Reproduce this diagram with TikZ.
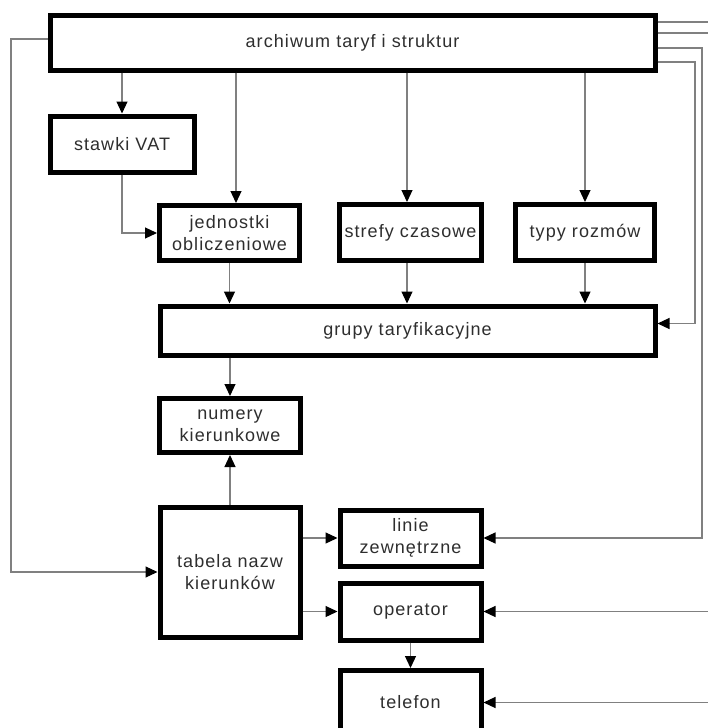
\documentclass[tikz,border=0pt]{standalone}
\usepackage{fontspec}
\setmainfont{Liberation Sans}[LetterSpace=6]
\usetikzlibrary{arrows.meta,calc}
\begin{document}
\begin{tikzpicture}[x=1pt,y=-1pt,
  box/.style={draw=black,line width=5pt,rectangle,align=center,inner sep=0pt,
    font=\fontsize{18}{21.5}\selectfont,text=black!82},
  conn/.style={draw=black!50,line width=1.2pt,-{Triangle[length=12pt,width=11pt,color=black]}},
  plain/.style={draw=black!50,line width=1.2pt}]
\clip (0,0) rectangle (708,728);
\fill[white] (0,0) rectangle (708,728);
\node[box,minimum width=605pt,minimum height=55pt] (top) at (352.5,42.5) {archiwum taryf i struktur};
\node[box,minimum width=144pt,minimum height=56pt] (vat) at (122,144) {stawki VAT};
\node[box,minimum width=140pt,minimum height=55pt] (jed) at (229.5,233) {jednostki\\obliczeniowe};
\node[box,minimum width=142pt,minimum height=56pt] (str) at (410.5,232.5) {strefy czasowe};
\node[box,minimum width=139pt,minimum height=56pt] (typ) at (585,232.5) {typy rozmów};
\node[box,minimum width=495pt,minimum height=49pt] (gru) at (407.5,330.5) {grupy taryfikacyjne};
\node[box,minimum width=141pt,minimum height=54pt] (num) at (230,425.5) {numery\\kierunkowe};
\node[box,minimum width=140pt,minimum height=130pt] (tab) at (230,572) {tabela nazw\\kierunków};
\node[box,minimum width=141pt,minimum height=56pt] (lin) at (410.5,538) {linie\\zewnętrzne};
\node[box,minimum width=141pt,minimum height=57pt] (ope) at (410.5,611.5) {operator};
\node[box,minimum width=141pt,minimum height=64pt] (tel) at (410.5,702.5) {telefon};
% top fan-out
\draw[conn] (top.south -| vat.north) -- (vat.north);
\draw[conn] ($(top.south)+(-116.5,0)$) -- ($(jed.north)+(6.5,0)$);
\draw[conn] ($(top.south)+(54.5,0)$) -- ($(str.north)+(-3.5,0)$);
\draw[conn] (top.south -| typ.north) -- (typ.north);
\draw[conn] (vat.south) |- (jed.west);
\draw[conn] (jed.south) -- (jed.south |- gru.north);
\draw[conn] ($(str.south)+(-3.5,0)$) -- ($(gru.north)+(-0.5,0)$);
\draw[conn] (typ.south) -- (typ.south |- gru.north);
\draw[conn] (gru.south -| num.north) -- (num.north);
\draw[conn] (tab.north) -- (num.south);
\draw[conn] (tab.east |- lin.west) -- (lin.west);
\draw[conn] (tab.east |- ope.west) -- (ope.west);
\draw[conn] (ope.south) -- (tel.north);
% right side feeds
\coordinate (r1) at (708,22);
\coordinate (r2) at (708,33);
\coordinate (r3) at (702,48);
\coordinate (r4) at (695,62);
\coordinate (ro) at (708,611.5);
\coordinate (rt) at (708,702.5);
\coordinate (l1) at (11,39);
\draw[plain] (top.east |- r1) -- (r1);
\draw[plain] (top.east |- r2) -- (r2);
\draw[conn] (top.east |- r3) -- (r3) |- (lin.east);
\draw[conn] (top.east |- r4) -- (r4) |- ($(gru.east)+(0,-7)$);
\draw[conn] (ro) -- (ope.east);
\draw[conn] (rt) -- (tel.east);
\draw[conn] (top.west |- l1) -- (l1) |- (tab.west);
\end{tikzpicture}
\end{document}
